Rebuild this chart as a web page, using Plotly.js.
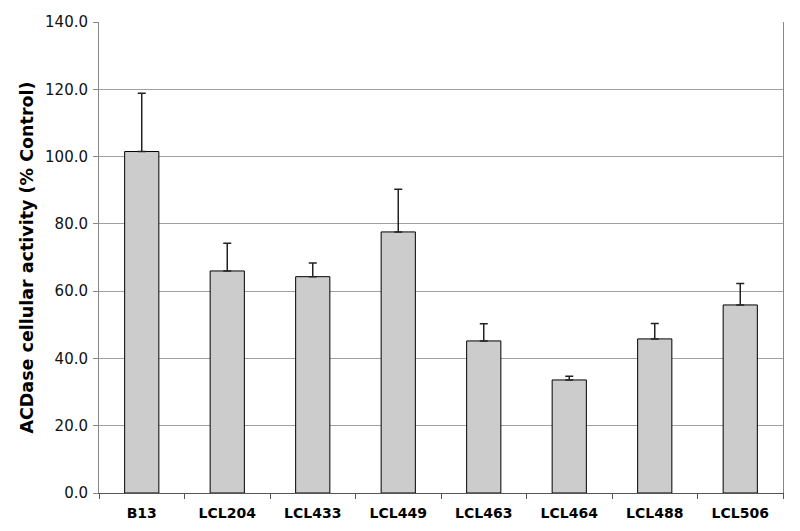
<!DOCTYPE html>
<html>
<head>
<meta charset="utf-8">
<script src="https://cdn.plot.ly/plotly-3.0.1.min.js"></script>
<style>html,body{margin:0;padding:0;background:#fff;}#chart{width:800px;height:531px;}</style>
</head>
<body>
<div id="chart"></div>
<script>
const categories = ["B13", "LCL204", "LCL433", "LCL449", "LCL463", "LCL464", "LCL488", "LCL506"];
const values = [101.5, 66.0, 64.3, 77.6, 45.2, 33.6, 45.8, 55.9];
const errors = [17.3, 8.2, 4.1, 12.7, 5.1, 1.1, 4.6, 6.4];
const yTickVals = [0, 20, 40, 60, 80, 100, 120, 140];
const yTickText = ["0.0", "20.0", "40.0", "60.0", "80.0", "100.0", "120.0", "140.0"];

const trace = {
  type: "bar",
  x: categories,
  y: values,
  marker: {color: "#cccccc", line: {color: "#000000", width: 1}},
  error_y: {type: "data", array: errors, symmetric: false, arrayminus: errors.map(() => 0), color: "#222222", thickness: 1.5, width: 4},
  hoverinfo: "none"
};

const layout = {
  width: 800, height: 531,
  margin: {l: 99, r: 17, t: 22, b: 38},
  paper_bgcolor: "#ffffff", plot_bgcolor: "#ffffff",
  bargap: 0.6,
  showlegend: false,
  font: {family: "DejaVu Sans, Verdana, sans-serif", color: "#000000"},
  xaxis: {
    type: "category",
    showline: true, linecolor: "#555555", linewidth: 1,
    ticks: "outside", tickson: "boundaries", ticklen: 5, tickcolor: "#555555",
    ticklabelstandoff: 7,
    tickfont: {size: 14, family: "DejaVu Sans, Verdana, sans-serif", weight: "bold"},
    showgrid: false, zeroline: false, automargin: false
  },
  yaxis: {
    range: [0, 140],
    tickvals: yTickVals, ticktext: yTickText,
    showline: true, linecolor: "#888888", linewidth: 1, mirror: true,
    ticks: "outside", ticklen: 5, tickcolor: "#888888",
    ticklabelstandoff: 2,
    tickfont: {size: 15, family: "DejaVu Sans, Verdana, sans-serif", color: "#111111"},
    showgrid: true, gridcolor: "#a0a0a0", gridwidth: 1,
    zeroline: false, automargin: false,
    title: {text: "ACDase cellular activity (% Control)", font: {size: 17.5, family: "DejaVu Sans, Verdana, sans-serif", weight: "bold"}, standoff: 6}
  }
};

Plotly.newPlot("chart", [trace], layout, {staticPlot: true, displayModeBar: false});
</script>
</body>
</html>
